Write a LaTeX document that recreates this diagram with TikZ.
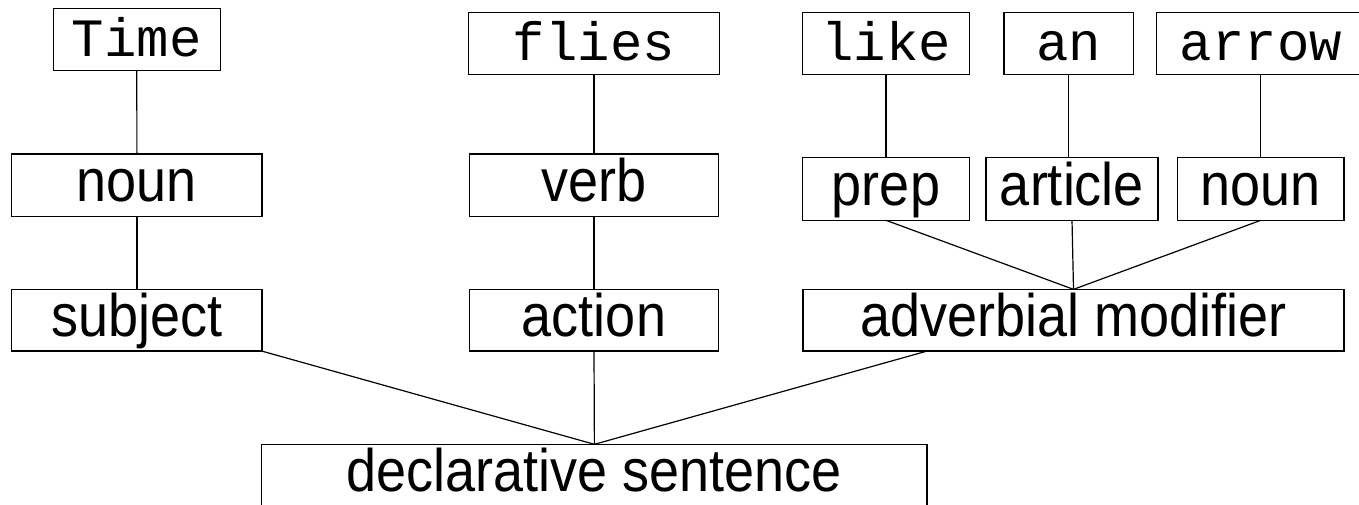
\documentclass[tikz,border=0pt]{standalone}
\usepackage{fontspec}
\newfontfamily\sansf[FakeStretch=0.9]{Liberation Sans}
\newfontfamily\monof{Liberation Mono}
\tikzset{
  x=1pt, y=-1pt,
  box/.style={draw, line width=1.2pt, inner sep=0pt, outer sep=0pt, fill=white},
  wordbox/.style={box, font=\monof\fontsize{54}{60}\selectfont, text height=42pt, text depth=8pt},
  tagbox/.style={box, font=\sansf\fontsize{60}{66}\selectfont, text height=42pt, text depth=10pt},
  link/.style={line width=1.2pt}
}
\begin{document}
\begin{tikzpicture}
\useasboundingbox (0,0) rectangle (1359,504);
\clip (0,0) rectangle (1359,504);
\fill[white] (0,0) rectangle (1359,504);

% words
\node[wordbox, minimum width=167pt,   minimum height=62.4pt] (time)  at (136.8,39.5) {Time};
\node[wordbox, minimum width=251.5pt, minimum height=62pt]   (flies) at (594,43.7)   {flies};
\node[wordbox, minimum width=166.7pt, minimum height=62pt]   (like)  at (886,43.7)   {like};
\node[wordbox, minimum width=129.4pt, minimum height=62pt]   (an)    at (1068.7,43.7) {an};
\node[wordbox, minimum width=208pt,   minimum height=62pt]   (arrow) at (1260.8,43.7) {arrow};

% parts of speech
\node[tagbox, minimum width=250.3pt, minimum height=62.7pt] (noun1)   at (136.9,185.3) {noun};
\node[tagbox, minimum width=249pt,   minimum height=62.7pt] (verb)    at (594,185.3)   {verb};
\node[tagbox, minimum width=166.3pt, minimum height=62.6pt] (prep)    at (886,189)     {prep};
\node[tagbox, minimum width=172pt,   minimum height=62.6pt] (article) at (1072,189)    {article};
\node[tagbox, minimum width=166.5pt, minimum height=62.6pt] (noun2)   at (1260.8,189)  {noun};

% sentence parts
\node[tagbox, minimum width=250.3pt, minimum height=61.7pt] (subject) at (136.9,320.2) {subject};
\node[tagbox, minimum width=249pt,   minimum height=61.7pt] (action)  at (594,320.2)   {action};
\node[tagbox, minimum width=541pt,   minimum height=61.7pt] (adv)     at (1073.5,320.2) {adverbial modifier};

% whole sentence
\node[tagbox, minimum width=665.3pt, minimum height=62.4pt] (decl) at (594.4,475.5) {declarative sentence};

% tree links
\draw[link] (time.south) -- (noun1.north);
\draw[link] (noun1.south) -- (subject.north);
\draw[link] (flies.south) -- (verb.north);
\draw[link] (verb.south) -- (action.north);
\draw[link] (like.south) -- (prep.north);
\draw[link] (an.south) -- (an.south |- article.north);
\draw[link] (arrow.south) -- (noun2.north);
\draw[link] (prep.south) -- (adv.north);
\draw[link] (article.south) -- (adv.north);
\draw[link] (noun2.south) -- (adv.north);
\draw[link] (decl.north west |- subject.south) -- (decl.north);
\draw[link] (action.south) -- (decl.north);
\draw[link] (decl.north east |- adv.south) -- (decl.north);
\end{tikzpicture}
\end{document}
